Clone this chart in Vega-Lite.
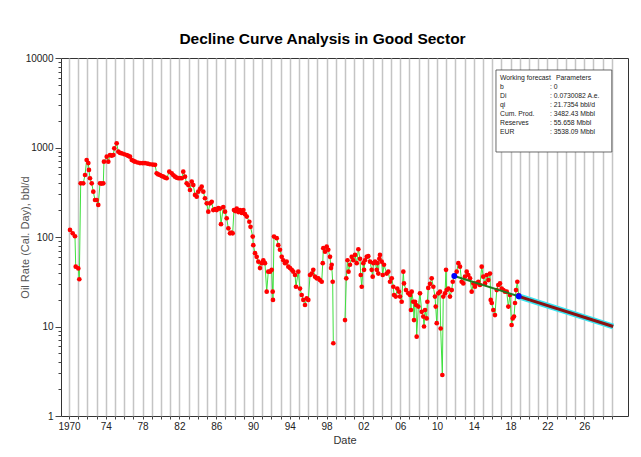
{
  "$schema": "https://vega.github.io/schema/vega-lite/v6.json",
  "width": 567,
  "height": 358,
  "autosize": {"type": "none"},
  "padding": {"left": 61, "top": 58, "right": 13, "bottom": 41},
  "background": "white",
  "config": {"view": {"stroke": "#333", "strokeWidth": 1}},
  "title": {"text": "Decline Curve Analysis in Good Sector", "font": "Liberation Sans", "fontSize": 15.5, "fontWeight": "bold", "color": "black", "anchor": "middle", "frame": "group", "dx": -22, "offset": 6},
  "datasets": {
    "prod": [
      {"year":1970.11,"rate":120,"seg":1},{"year":1970.40,"rate":110,"seg":1},{"year":1970.65,"rate":102,"seg":1},{"year":1970.73,"rate":46.6,"seg":1},{"year":1971.01,"rate":44.6,"seg":1},{"year":1971.12,"rate":33.7,"seg":1},{"year":1971.27,"rate":398,"seg":1},{"year":1971.55,"rate":398,"seg":1},{"year":1971.74,"rate":493,"seg":1},{"year":1971.92,"rate":725,"seg":1},{"year":1972.10,"rate":670,"seg":1},{"year":1972.17,"rate":562,"seg":1},{"year":1972.28,"rate":453,"seg":1},{"year":1972.47,"rate":398,"seg":1},{"year":1972.64,"rate":321,"seg":1},{"year":1972.83,"rate":259,"seg":1},{"year":1973.01,"rate":259,"seg":1},{"year":1973.18,"rate":228,"seg":1},{"year":1973.37,"rate":398,"seg":1},{"year":1973.55,"rate":395,"seg":1},{"year":1973.73,"rate":398,"seg":1},{"year":1973.80,"rate":695,"seg":1},{"year":1974.10,"rate":789,"seg":1},{"year":1974.27,"rate":695,"seg":1},{"year":1974.46,"rate":824,"seg":1},{"year":1974.64,"rate":810,"seg":1},{"year":1974.82,"rate":824,"seg":1},{"year":1974.92,"rate":979,"seg":1},{"year":1975.18,"rate":1114,"seg":1},{"year":1975.36,"rate":898,"seg":1},{"year":1975.55,"rate":870,"seg":1},{"year":1975.73,"rate":861,"seg":1},{"year":1976.00,"rate":840,"seg":1},{"year":1976.27,"rate":824,"seg":1},{"year":1976.45,"rate":805,"seg":1},{"year":1976.63,"rate":789,"seg":1},{"year":1976.82,"rate":725,"seg":1},{"year":1977.00,"rate":710,"seg":1},{"year":1977.17,"rate":695,"seg":1},{"year":1977.45,"rate":680,"seg":1},{"year":1977.72,"rate":670,"seg":1},{"year":1978.00,"rate":668,"seg":1},{"year":1978.26,"rate":670,"seg":1},{"year":1978.55,"rate":660,"seg":1},{"year":1978.80,"rate":650,"seg":1},{"year":1979.10,"rate":645,"seg":1},{"year":1979.35,"rate":640,"seg":1},{"year":1979.53,"rate":515,"seg":1},{"year":1979.70,"rate":500,"seg":1},{"year":1979.89,"rate":493,"seg":1},{"year":1980.07,"rate":480,"seg":1},{"year":1980.25,"rate":472,"seg":1},{"year":1980.45,"rate":460,"seg":1},{"year":1980.62,"rate":453,"seg":1},{"year":1980.90,"rate":537,"seg":1},{"year":1981.16,"rate":515,"seg":1},{"year":1981.35,"rate":490,"seg":1},{"year":1981.52,"rate":472,"seg":1},{"year":1981.70,"rate":460,"seg":1},{"year":1981.88,"rate":453,"seg":1},{"year":1982.06,"rate":455,"seg":1},{"year":1982.25,"rate":453,"seg":1},{"year":1982.42,"rate":537,"seg":1},{"year":1982.61,"rate":472,"seg":1},{"year":1982.79,"rate":398,"seg":1},{"year":1982.97,"rate":380,"seg":1},{"year":1983.15,"rate":335,"seg":1},{"year":1983.34,"rate":415,"seg":1},{"year":1983.51,"rate":380,"seg":1},{"year":1983.70,"rate":295,"seg":1},{"year":1983.88,"rate":282,"seg":1},{"year":1984.05,"rate":321,"seg":1},{"year":1984.25,"rate":345,"seg":1},{"year":1984.42,"rate":365,"seg":1},{"year":1984.60,"rate":321,"seg":1},{"year":1984.78,"rate":271,"seg":1},{"year":1984.97,"rate":238,"seg":1},{"year":1985.14,"rate":192,"seg":1},{"year":1985.33,"rate":238,"seg":1},{"year":1985.51,"rate":247,"seg":1},{"year":1985.68,"rate":200,"seg":1},{"year":1985.87,"rate":205,"seg":1},{"year":1986.05,"rate":200,"seg":1},{"year":1986.23,"rate":210,"seg":1},{"year":1986.41,"rate":208,"seg":1},{"year":1986.52,"rate":139,"seg":1},{"year":1986.77,"rate":216,"seg":1},{"year":1986.96,"rate":192,"seg":1},{"year":1987.14,"rate":162,"seg":1},{"year":1987.32,"rate":125,"seg":1},{"year":1987.50,"rate":110,"seg":1},{"year":1987.65,"rate":112,"seg":1},{"year":1987.79,"rate":110,"seg":1},{"year":1987.93,"rate":200,"seg":1},{"year":1988.08,"rate":195,"seg":1},{"year":1988.23,"rate":208,"seg":1},{"year":1988.41,"rate":190,"seg":1},{"year":1988.59,"rate":200,"seg":1},{"year":1988.77,"rate":186,"seg":1},{"year":1988.95,"rate":200,"seg":1},{"year":1989.13,"rate":180,"seg":1},{"year":1989.32,"rate":169,"seg":1},{"year":1989.60,"rate":148,"seg":1},{"year":1989.73,"rate":130,"seg":1},{"year":1989.97,"rate":101,"seg":1},{"year":1990.03,"rate":81,"seg":1},{"year":1990.22,"rate":66,"seg":1},{"year":1990.40,"rate":60,"seg":1},{"year":1990.58,"rate":53,"seg":1},{"year":1990.76,"rate":45,"seg":1},{"year":1990.95,"rate":51,"seg":1},{"year":1991.12,"rate":55,"seg":1},{"year":1991.30,"rate":51,"seg":1},{"year":1991.49,"rate":24.5,"seg":1},{"year":1991.66,"rate":41,"seg":1},{"year":1991.85,"rate":41,"seg":1},{"year":1992.03,"rate":43,"seg":1},{"year":1992.14,"rate":24.5,"seg":1},{"year":1992.17,"rate":19.8,"seg":1},{"year":1992.28,"rate":101,"seg":1},{"year":1992.58,"rate":97,"seg":1},{"year":1992.75,"rate":81,"seg":1},{"year":1992.93,"rate":72,"seg":1},{"year":1993.12,"rate":60,"seg":1},{"year":1993.29,"rate":55,"seg":1},{"year":1993.48,"rate":51,"seg":1},{"year":1993.66,"rate":53,"seg":1},{"year":1993.84,"rate":46.6,"seg":1},{"year":1994.02,"rate":45,"seg":1},{"year":1994.21,"rate":43,"seg":1},{"year":1994.38,"rate":41,"seg":1},{"year":1994.57,"rate":37.6,"seg":1},{"year":1994.67,"rate":27.8,"seg":1},{"year":1994.92,"rate":41,"seg":1},{"year":1995.11,"rate":26.5,"seg":1},{"year":1995.29,"rate":22.5,"seg":1},{"year":1995.47,"rate":19.8,"seg":1},{"year":1995.65,"rate":17.4,"seg":1},{"year":1995.84,"rate":20.6,"seg":1},{"year":1996.01,"rate":19.8,"seg":1},{"year":1996.20,"rate":37.6,"seg":1},{"year":1996.38,"rate":39,"seg":1},{"year":1996.55,"rate":43,"seg":1},{"year":1996.74,"rate":36,"seg":1},{"year":1996.92,"rate":34.5,"seg":1},{"year":1997.10,"rate":34.5,"seg":1},{"year":1997.28,"rate":33,"seg":1},{"year":1997.47,"rate":31.6,"seg":1},{"year":1997.58,"rate":51,"seg":1},{"year":1997.64,"rate":75,"seg":1},{"year":1997.83,"rate":68.5,"seg":1},{"year":1998.01,"rate":78,"seg":1},{"year":1998.18,"rate":72,"seg":1},{"year":1998.37,"rate":60,"seg":1},{"year":1998.48,"rate":45,"seg":1},{"year":1998.55,"rate":49,"seg":1},{"year":1998.66,"rate":31.6,"seg":1},{"year":1998.73,"rate":6.5,"seg":1},
      {"year":2000.00,"rate":11.8,"seg":2},{"year":2000.14,"rate":34.5,"seg":2},{"year":2000.27,"rate":55,"seg":2},{"year":2000.38,"rate":41,"seg":2},{"year":2000.54,"rate":49,"seg":2},{"year":2000.73,"rate":60,"seg":2},{"year":2000.90,"rate":55,"seg":2},{"year":2001.09,"rate":63,"seg":2},{"year":2001.27,"rate":51,"seg":2},{"year":2001.45,"rate":73,"seg":2},{"year":2001.63,"rate":57,"seg":2},{"year":2001.71,"rate":37.6,"seg":2},{"year":2001.82,"rate":27.8,"seg":2},{"year":2001.99,"rate":51,"seg":2},{"year":2002.07,"rate":43,"seg":2},{"year":2002.17,"rate":55,"seg":2},{"year":2002.36,"rate":60,"seg":2},{"year":2002.53,"rate":61,"seg":2},{"year":2002.72,"rate":53,"seg":2},{"year":2002.90,"rate":43,"seg":2},{"year":2003.01,"rate":36,"seg":2},{"year":2003.08,"rate":51,"seg":2},{"year":2003.26,"rate":53,"seg":2},{"year":2003.45,"rate":43,"seg":2},{"year":2003.51,"rate":51,"seg":2},{"year":2003.62,"rate":39,"seg":2},{"year":2003.73,"rate":57,"seg":2},{"year":2003.80,"rate":63,"seg":2},{"year":2003.99,"rate":53,"seg":2},{"year":2004.10,"rate":37.6,"seg":2},{"year":2004.24,"rate":49,"seg":2},{"year":2004.53,"rate":39,"seg":2},{"year":2004.71,"rate":41,"seg":2},{"year":2004.89,"rate":31.6,"seg":2},{"year":2005.08,"rate":34.5,"seg":2},{"year":2005.25,"rate":27.8,"seg":2},{"year":2005.33,"rate":22.5,"seg":2},{"year":2005.51,"rate":21.6,"seg":2},{"year":2005.68,"rate":26.5,"seg":2},{"year":2005.87,"rate":24.5,"seg":2},{"year":2005.98,"rate":21.6,"seg":2},{"year":2006.16,"rate":18.9,"seg":2},{"year":2006.34,"rate":41,"seg":2},{"year":2006.41,"rate":30.3,"seg":2},{"year":2006.63,"rate":25.5,"seg":2},{"year":2006.88,"rate":23.5,"seg":2},{"year":2007.07,"rate":22.5,"seg":2},{"year":2007.17,"rate":15.3,"seg":2},{"year":2007.25,"rate":24.5,"seg":2},{"year":2007.42,"rate":18.9,"seg":2},{"year":2007.50,"rate":11.8,"seg":2},{"year":2007.61,"rate":18.9,"seg":2},{"year":2007.72,"rate":17.4,"seg":2},{"year":2007.79,"rate":7.7,"seg":2},{"year":2007.97,"rate":16.7,"seg":2},{"year":2008.15,"rate":23.5,"seg":2},{"year":2008.34,"rate":14.6,"seg":2},{"year":2008.51,"rate":12.9,"seg":2},{"year":2008.59,"rate":10.0,"seg":2},{"year":2008.70,"rate":15.3,"seg":2},{"year":2008.88,"rate":12.3,"seg":2},{"year":2008.95,"rate":18.9,"seg":2},{"year":2009.05,"rate":27,"seg":2},{"year":2009.24,"rate":30,"seg":2},{"year":2009.42,"rate":34.5,"seg":2},{"year":2009.60,"rate":27.8,"seg":2},{"year":2009.78,"rate":21.6,"seg":2},{"year":2009.86,"rate":16.7,"seg":2},{"year":2009.97,"rate":10.9,"seg":2},{"year":2010.14,"rate":23.5,"seg":2},{"year":2010.33,"rate":24.5,"seg":2},{"year":2010.40,"rate":9.5,"seg":2},{"year":2010.58,"rate":2.87,"seg":2},{"year":2010.68,"rate":21.6,"seg":2},{"year":2010.87,"rate":23.5,"seg":2},{"year":2010.98,"rate":43,"seg":2},{"year":2011.05,"rate":25.5,"seg":2},{"year":2011.23,"rate":26.5,"seg":2},{"year":2011.41,"rate":21.6,"seg":2},{"year":2011.60,"rate":25.5,"seg":2},{"year":2011.71,"rate":31.6,"seg":2},{"year":2011.88,"rate":36.7,"seg":2},{"year":2012.14,"rate":41,"seg":2},{"year":2012.32,"rate":51,"seg":2},{"year":2012.50,"rate":46.6,"seg":2},{"year":2012.68,"rate":31.6,"seg":2},{"year":2012.86,"rate":30.3,"seg":2},{"year":2013.04,"rate":36,"seg":2},{"year":2013.23,"rate":41,"seg":2},{"year":2013.40,"rate":37.6,"seg":2},{"year":2013.59,"rate":34.5,"seg":2},{"year":2013.77,"rate":24.5,"seg":2},{"year":2013.95,"rate":30.3,"seg":2},{"year":2014.13,"rate":27.8,"seg":2},{"year":2014.32,"rate":30.3,"seg":2},{"year":2014.49,"rate":31.6,"seg":2},{"year":2014.67,"rate":29.1,"seg":2},{"year":2014.86,"rate":46.6,"seg":2},{"year":2015.03,"rate":36,"seg":2},{"year":2015.22,"rate":30.3,"seg":2},{"year":2015.40,"rate":37.6,"seg":2},{"year":2015.58,"rate":33,"seg":2},{"year":2015.76,"rate":39,"seg":2},{"year":2015.84,"rate":19.8,"seg":2},{"year":2015.95,"rate":18.3,"seg":2},{"year":2016.12,"rate":15.3,"seg":2},{"year":2016.30,"rate":13.4,"seg":2},{"year":2016.49,"rate":25.5,"seg":2},{"year":2016.66,"rate":29.1,"seg":2},{"year":2016.85,"rate":30.3,"seg":2},{"year":2017.03,"rate":26.5,"seg":2},{"year":2017.21,"rate":25.5,"seg":2},{"year":2017.39,"rate":24.5,"seg":2},{"year":2017.58,"rate":24.5,"seg":2},{"year":2017.75,"rate":16.7,"seg":2},{"year":2017.93,"rate":22.5,"seg":2},{"year":2018.11,"rate":10.4,"seg":2},{"year":2018.23,"rate":12.3,"seg":2},{"year":2018.37,"rate":12.9,"seg":2},{"year":2018.48,"rate":18.3,"seg":2},{"year":2018.59,"rate":25.5,"seg":2},{"year":2018.73,"rate":31.6,"seg":2},{"year":2018.88,"rate":22.5,"seg":2}
    ],
    "fit": [
      {"year": 2011.88, "rate": 36.7},
      {"year": 2018.88, "rate": 21.74}
    ],
    "forecast": [
      {"year": 2018.88, "rate": 21.74},
      {"year": 2029.15, "rate": 10.0}
    ],
    "params": [
      {"header": "Parameters",
       "labels": ["Working forecast", "b", "Di", "qi", "Cum. Prod.", "Reserves", "EUR"],
       "values": [": 0", ": 0.0730082 A.e.", ": 21.7354 bbl/d", ": 3482.43 Mbbl", ": 55.658 Mbbl", ": 3538.09 Mbbl"]}
    ]
  },
  "layer": [
    {
      "data": {"name": "prod"},
      "mark": {"type": "line", "color": "#3fe03f", "strokeWidth": 1},
      "encoding": {
        "x": {
          "field": "year", "type": "quantitative",
          "scale": {"domain": [1969.13, 2030.76], "nice": false, "zero": false},
          "axis": {
            "title": "Date",
            "values": [1970,1971,1972,1973,1974,1975,1976,1977,1978,1979,1980,1981,1982,1983,1984,1985,1986,1987,1988,1989,1990,1991,1992,1993,1994,1995,1996,1997,1998,1999,2000,2001,2002,2003,2004,2005,2006,2007,2008,2009,2010,2011,2012,2013,2014,2015,2016,2017,2018,2019,2020,2021,2022,2023,2024,2025,2026,2027,2028,2029],
            "tickCount": 200,
            "labelExpr": "(datum.value - 1970) % 4 == 0 ? (datum.value == 1970 ? '1970' : slice(toString(datum.value), 2)) : ''",
            "labelOverlap": false, "labelFlush": false,
            "grid": true, "gridColor": "#c4c4c4", "gridWidth": 1.5,
            "domain": false, "tickSize": 3, "tickColor": "#444",
            "labelFont": "Liberation Sans", "labelFontSize": 10, "labelColor": "#222", "labelPadding": 2,
            "titleFont": "Liberation Sans", "titleFontSize": 11, "titleFontWeight": "normal", "titleColor": "#333", "titlePadding": 3
          }
        },
        "y": {
          "field": "rate", "type": "quantitative",
          "scale": {"type": "log", "domain": [1, 10000], "nice": false},
          "axis": {
            "title": "Oil Rate (Cal. Day), bbl/d",
            "values": [1,2,3,4,5,6,7,8,9,10,20,30,40,50,60,70,80,90,100,200,300,400,500,600,700,800,900,1000,2000,3000,4000,5000,6000,7000,8000,9000,10000],
            "tickCount": 200,
            "labelExpr": "indexof([1,10,100,1000,10000], datum.value) >= 0 ? '' + datum.value : ''",
            "labelOverlap": false, "labelFlush": false,
            "grid": false, "domain": false,
            "tickSize": {"condition": {"test": "indexof([1,10,100,1000,10000], datum.value) >= 0", "value": 6}, "value": 3},
            "tickColor": "#444",
            "labelFont": "Liberation Sans", "labelFontSize": 10, "labelColor": "#222", "labelPadding": 2,
            "titleFont": "Liberation Sans", "titleFontSize": 11, "titleFontWeight": "normal", "titleColor": "#555", "titlePadding": -5
          }
        },
        "detail": {"field": "seg", "type": "nominal"}
      }
    },
    {
      "data": {"name": "prod"},
      "mark": {"type": "point", "filled": true, "color": "#ff0000", "size": 22, "opacity": 1},
      "encoding": {
        "x": {"field": "year", "type": "quantitative"},
        "y": {"field": "rate", "type": "quantitative"}
      }
    },
    {
      "data": {"name": "fit"},
      "mark": {"type": "line", "color": "#1e7b1e", "strokeWidth": 2},
      "encoding": {
        "x": {"field": "year", "type": "quantitative"},
        "y": {"field": "rate", "type": "quantitative"}
      }
    },
    {
      "data": {"name": "forecast"},
      "mark": {"type": "line", "color": "#38e4f0", "strokeWidth": 6},
      "encoding": {
        "x": {"field": "year", "type": "quantitative"},
        "y": {"field": "rate", "type": "quantitative"}
      }
    },
    {
      "data": {"name": "forecast"},
      "mark": {"type": "line", "color": "#8b1212", "strokeWidth": 3},
      "encoding": {
        "x": {"field": "year", "type": "quantitative"},
        "y": {"field": "rate", "type": "quantitative"}
      }
    },
    {
      "data": {"name": "fit"},
      "mark": {"type": "point", "filled": true, "color": "#0000ff", "size": 35, "opacity": 1},
      "encoding": {
        "x": {"field": "year", "type": "quantitative"},
        "y": {"field": "rate", "type": "quantitative"}
      }
    },
    {
      "data": {"name": "params"},
      "mark": {"type": "rect", "fill": "white", "stroke": "#444", "strokeWidth": 0.8},
      "encoding": {
        "x": {"datum": 2016.41, "type": "quantitative"},
        "x2": {"datum": 2029.0},
        "y": {"datum": 7345, "type": "quantitative"},
        "y2": {"datum": 891}
      }
    },
    {
      "data": {"name": "params"},
      "mark": {"type": "text", "align": "left", "baseline": "top", "font": "Liberation Sans", "fontSize": 6.8, "lineHeight": 9, "color": "#222"},
      "encoding": {
        "x": {"datum": 2016.85, "type": "quantitative"},
        "y": {"datum": 6375, "type": "quantitative"},
        "text": {"field": "labels"}
      }
    },
    {
      "data": {"name": "params"},
      "mark": {"type": "text", "align": "left", "baseline": "top", "font": "Liberation Sans", "fontSize": 6.8, "lineHeight": 9, "color": "#222"},
      "encoding": {
        "x": {"datum": 2022.93, "type": "quantitative"},
        "y": {"datum": 6375, "type": "quantitative"},
        "text": {"field": "header"}
      }
    },
    {
      "data": {"name": "params"},
      "mark": {"type": "text", "align": "left", "baseline": "top", "font": "Liberation Sans", "fontSize": 6.8, "lineHeight": 9, "color": "#222"},
      "encoding": {
        "x": {"datum": 2022.28, "type": "quantitative"},
        "y": {"datum": 5060, "type": "quantitative"},
        "text": {"field": "values"}
      }
    }
  ]
}
